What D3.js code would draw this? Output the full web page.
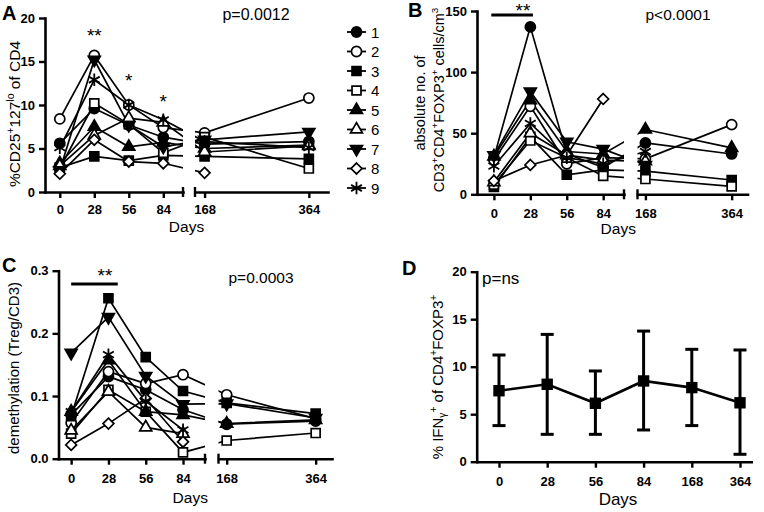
<!DOCTYPE html>
<html><head><meta charset="utf-8">
<script src="https://cdn.jsdelivr.net/npm/d3@7"></script>
<style>
body{margin:0;background:#fff}
svg{display:block}
text{font-family:"Liberation Sans",Arial,Helvetica,sans-serif;fill:#000}
</style>
</head><body>
<svg id="chart" width="764" height="512"></svg>
<script>
// ---------------- DATA ----------------
const days = [0, 28, 56, 84, 168, 364];
const seriesNames = ["1", "2", "3", "4", "5", "6", "7", "8", "9"];
const dayTicksEarly = [0, 28, 56, 84];
const dayTicksLate = [168, 364];

// Panel A: %CD25+127lo of CD4 (rows = series 1..9, cols = days)
const valuesA = [
  [5.6, 9.6, 7.7, 6.3, 5.5, 5.8],
  [8.4, 15.7, 10.0, 7.4, 6.8, 10.8],
  [2.8, 4.1, 3.6, 4.2, 4.1, 3.8],
  [2.7, 10.2, 7.8, 4.5, 6.3, 2.7],
  [3.3, 7.5, 5.2, 5.7, 5.0, 5.4],
  [3.0, 6.5, 8.5, 8.0, 4.6, 5.3],
  [2.5, 15.2, 7.7, 5.2, 6.0, 6.9],
  [2.1, 6.0, 3.5, 3.3, 2.2, null],
  [5.1, 12.9, 10.0, 8.3, 5.8, 5.1]
];
// Panel B: absolute no. of CD3+CD4+FOXP3+ cells/cm3
const valuesB = [
  [30, 137, 33, 22, 42, 33],
  [28, 72, 25, 30, 29, 57],
  [6, 47, 16, 20, 19, 11.7],
  [8, 44, 30, 15, 12.5, 6.5],
  [31, 77, 35, 33, 53, 38],
  [10, 50, 32, 28, 27, null],
  [32, 84, 43, 37, 24, null],
  [11, 24, 32, 78, null, null],
  [23, 58, 30, 25, 35, null]
];
// Panel C: demethylation (Treg/CD3)
const valuesC = [
  [0.070, 0.131, 0.110, 0.078, 0.055, 0.060],
  [0.057, 0.139, 0.120, 0.134, 0.102, 0.064],
  [0.068, 0.256, 0.162, 0.108, 0.089, 0.072],
  [0.040, 0.110, 0.075, 0.010, 0.029, 0.041],
  [0.075, 0.157, 0.075, 0.070, 0.056, 0.062],
  [0.045, 0.107, 0.050, 0.040, null, null],
  [0.169, 0.226, 0.132, 0.087, 0.088, 0.065],
  [0.022, 0.056, 0.096, 0.027, null, null],
  [0.075, 0.166, 0.092, 0.046, null, null]
];
// Panel D: % IFNγ+ of CD4+FOXP3+ (mean with error bars)
const meanD = [7.47, 8.15, 6.15, 8.5, 7.8, 6.2];
const upperD = [11.23, 13.4, 9.55, 13.75, 11.83, 11.76];
const lowerD = [3.8, 2.88, 2.88, 3.34, 3.8, 0.78];

const yTicksA = [0, 5, 10, 15, 20];
const yTicksB = [0, 50, 100, 150];
const yTicksC = [0, 0.1, 0.2, 0.3];
const yTicksD = [0, 5, 10, 15, 20];

// ---------------- DRAWING ----------------
const svg = d3.select("#chart");
const defs = svg.append("defs");

const markerDefs = [
  {type: d3.symbolCircle, fill: true, size: 80},
  {type: d3.symbolCircle, fill: false, size: 80},
  {type: d3.symbolSquare, fill: true, size: 80},
  {type: d3.symbolSquare, fill: false, size: 80},
  {type: d3.symbolTriangle, fill: true, size: 62},
  {type: d3.symbolTriangle, fill: false, size: 62},
  {type: d3.symbolTriangle, fill: true, size: 62, rot: 180},
  {type: d3.symbolDiamond2, fill: false, size: 75},
  {type: d3.symbolAsterisk, fill: false, size: 110, star: true}
];

function drawMarker(g, i, x, y) {
  const m = markerDefs[i];
  g.append("path")
    .attr("d", d3.symbol().type(m.type).size(m.size)())
    .attr("transform", `translate(${x},${y})` + (m.rot ? ` rotate(${m.rot})` : ""))
    .attr("fill", m.star ? "none" : (m.fill ? "#000" : "#fff"))
    .attr("stroke", "#000")
    .attr("stroke-width", m.star ? 1.8 : 1.7);
}

function richText(g, x, y, parts, opts) {
  const t = g.append("text")
    .attr("transform", `translate(${x},${y}) rotate(${opts.rotate || 0})`)
    .attr("text-anchor", opts.anchor || "middle")
    .attr("font-size", opts.size + "px");
  let cur = 0;
  parts.forEach(p => {
    const kind = p[1];
    const target = kind === "sup" ? -opts.size * 0.42 : (kind === "sub" ? opts.size * 0.22 : 0);
    const ts = t.append("tspan").text(p[0]).attr("dy", target - cur);
    if (kind) ts.attr("font-size", (opts.size * 0.68) + "px");
    cur = target;
  });
  return t;
}

function styleAxis(ax) {
  ax.selectAll(".domain").attr("stroke-width", 2.6).attr("stroke-linecap", "square");
  ax.selectAll(".tick line").attr("stroke-width", 2.4);
  ax.selectAll(".tick text")
    .attr("font-family", "'Liberation Sans',Arial,sans-serif")
    .attr("font-weight", "bold").attr("font-size", "13px").attr("fill", "#000");
}

function brokenPanel(cfg) {
  const g = svg.append("g");
  const y = d3.scaleLinear().domain(cfg.yDomain).range([cfg.yBottom, cfg.yTop]);
  const x1 = d3.scaleLinear().domain(cfg.d1).range(cfg.r1);
  const x2 = d3.scaleLinear().domain(cfg.d2).range(cfg.r2);
  const xp = d => d > cfg.d1[1] ? x2(d) : x1(d);

  const clipId = "clip" + cfg.id;
  const cp = defs.append("clipPath").attr("id", clipId);
  cp.append("rect").attr("x", cfg.r1[0] - 30).attr("y", 0)
    .attr("width", cfg.r1[1] - cfg.r1[0] + 30).attr("height", 512);
  cp.append("rect").attr("x", cfg.r2[0]).attr("y", 0)
    .attr("width", cfg.r2[1] - cfg.r2[0] + 30).attr("height", 512);

  const line = d3.line().x(p => xp(p.d)).y(p => y(p.v));
  const lg = g.append("g").attr("clip-path", `url(#${clipId})`);
  cfg.values.forEach(vals => {
    const pts = days.map((d, j) => ({d, v: vals[j]})).filter(p => p.v != null);
    lg.append("path").attr("d", line(pts)).attr("fill", "none")
      .attr("stroke", "#000").attr("stroke-width", 1.7);
  });

  // axes
  const yAx = g.append("g").attr("transform", `translate(${cfg.r1[0]},0)`)
    .call(d3.axisLeft(y).tickValues(cfg.yTicks).tickSize(6).tickSizeOuter(0)
      .tickPadding(4).tickFormat(cfg.yFormat || d3.format("d")));
  styleAxis(yAx);
  const xAx1 = g.append("g").attr("transform", `translate(0,${cfg.yBottom})`)
    .call(d3.axisBottom(x1).tickValues(dayTicksEarly).tickSize(6).tickSizeOuter(0).tickPadding(cfg.xPad));
  styleAxis(xAx1);
  const xAx2 = g.append("g").attr("transform", `translate(0,${cfg.yBottom})`)
    .call(d3.axisBottom(x2).tickValues(dayTicksLate).tickSize(6).tickSizeOuter(0).tickPadding(cfg.xPad));
  styleAxis(xAx2);
  // break end bars
  [cfg.r1[1], cfg.r2[0]].forEach(xx => {
    g.append("line").attr("x1", xx).attr("x2", xx)
      .attr("y1", cfg.yBottom - 5).attr("y2", cfg.yBottom + 5)
      .attr("stroke", "#000").attr("stroke-width", 2.4);
  });

  // markers
  cfg.values.forEach((vals, i) => {
    days.forEach((d, j) => {
      if (vals[j] != null) drawMarker(g, i, xp(d), y(vals[j]));
    });
  });

  // labels
  g.append("text").attr("x", cfg.letter[1]).attr("y", cfg.letter[2])
    .attr("font-size", "20px").attr("font-weight", "bold").text(cfg.letter[0]);
  g.append("text").attr("x", cfg.pval[1]).attr("y", cfg.pval[2]).attr("text-anchor", "middle")
    .attr("font-size", cfg.pval[3] + "px").text(cfg.pval[0]);
  g.append("text").attr("x", (cfg.r1[0] + cfg.r2[1]) / 2 + (cfg.daysDx || 0)).attr("y", cfg.daysY)
    .attr("text-anchor", "middle").attr("font-size", "15.5px").text("Days");
  return {g, y, xp};
}

// Panel A
const A = brokenPanel({
  id: "A", values: valuesA, yDomain: [0, 20], yTop: 18, yBottom: 192, yTicks: yTicksA,
  d1: [-12, 100], r1: [45, 183], d2: [150, 400], r2: [195, 328], xPad: 7,
  letter: ["A", 2, 20], pval: ["p=0.0012", 256, 20, 16], daysY: 232
});
richText(A.g, 20, 114, [["%CD25"], ["+", "sup"], ["127"], ["lo", "sup"], [" of CD4"]], {size: 15.5, rotate: -90});
[[A.xp(28), 42, "**"], [A.xp(56), 87, "*"], [A.xp(84), 108, "*"]].forEach(s => {
  A.g.append("text").attr("x", s[0]).attr("y", s[1]).attr("text-anchor", "middle")
    .attr("font-size", "19px").text(s[2]);
});
// legend
seriesNames.forEach((name, i) => {
  const ly = 32 + 19.5 * i;
  A.g.append("line").attr("x1", 347).attr("x2", 366).attr("y1", ly).attr("y2", ly)
    .attr("stroke", "#000").attr("stroke-width", 1.8);
  drawMarker(A.g, i, 356.5, ly);
  A.g.append("text").attr("x", 371).attr("y", ly + 5.5).attr("font-size", "15px").text(name);
});

// Panel B
const B = brokenPanel({
  id: "B", values: valuesB, yDomain: [0, 150], yTop: 11, yBottom: 194.3, yTicks: yTicksB,
  d1: [-13, 100], r1: [477, 624], d2: [150, 400], r2: [637.5, 747.5], xPad: 8,
  letter: ["B", 408, 17], pval: ["p<0.0001", 678, 20, 15.5], daysY: 234, daysDx: 6
});
richText(B.g, 425, 103, [["absolute no. of"]], {size: 14.5, rotate: -90});
richText(B.g, 444, 100, [["CD3"], ["+", "sup"], ["CD4"], ["+", "sup"], ["FOXP3"], ["+", "sup"], [" cells/cm"], ["3", "sup"]], {size: 14.5, rotate: -90});
B.g.append("line").attr("x1", B.xp(-2)).attr("x2", B.xp(30)).attr("y1", 15).attr("y2", 15)
  .attr("stroke", "#000").attr("stroke-width", 2.8);
B.g.append("text").attr("x", 523).attr("y", 17).attr("text-anchor", "middle").attr("font-size", "19px").text("**");

// Panel C
const C = brokenPanel({
  id: "C", values: valuesC, yDomain: [0, 0.3], yTop: 270.7, yBottom: 458.7, yTicks: yTicksC,
  yFormat: d3.format(".1f"),
  d1: [-9.5, 100.5], r1: [58.5, 205], d2: [150, 400], r2: [218.5, 332], xPad: 9,
  letter: ["C", 2, 272], pval: ["p=0.0003", 261, 283, 15.5], daysY: 503, daysDx: -5
});
richText(C.g, 19, 368, [["demethylation (Treg/CD3)"]], {size: 15, rotate: -90});
C.g.append("line").attr("x1", C.xp(0)).attr("x2", C.xp(35)).attr("y1", 284).attr("y2", 284)
  .attr("stroke", "#000").attr("stroke-width", 2.8);
C.g.append("text").attr("x", 105).attr("y", 281.5).attr("text-anchor", "middle").attr("font-size", "19px").text("**");

// Panel D
(function () {
  const g = svg.append("g");
  const axX = 476.7, top = 271.7, bottom = 461.7, right = 753;
  const y = d3.scaleLinear().domain([0, 20]).range([bottom, top]);
  const x = d3.scalePoint().domain(days.map(String)).range([499, 740]);
  // axes
  const yAx = g.append("g").attr("transform", `translate(${axX},0)`)
    .call(d3.axisLeft(y).tickValues(yTicksD).tickSize(6).tickSizeOuter(0).tickPadding(4));
  styleAxis(yAx);
  const xAx = g.append("g").attr("transform", `translate(0,${bottom})`)
    .call(d3.axisBottom(x).tickSize(6).tickSizeOuter(0).tickPadding(9));
  styleAxis(xAx);
  xAx.select(".domain").remove();
  g.append("line").attr("x1", axX).attr("x2", right).attr("y1", bottom + 0.5).attr("y2", bottom + 0.5)
    .attr("stroke", "#000").attr("stroke-width", 2.6);

  // error bars
  days.forEach((d, j) => {
    const cx = x(String(d));
    g.append("line").attr("x1", cx).attr("x2", cx).attr("y1", y(lowerD[j])).attr("y2", y(upperD[j]))
      .attr("stroke", "#000").attr("stroke-width", 3);
    [upperD[j], lowerD[j]].forEach(v => {
      g.append("line").attr("x1", cx - 6.5).attr("x2", cx + 6.5).attr("y1", y(v)).attr("y2", y(v))
        .attr("stroke", "#000").attr("stroke-width", 3);
    });
  });
  g.append("path").attr("d", d3.line().x((v, j) => x(String(days[j]))).y(v => y(v))(meanD))
    .attr("fill", "none").attr("stroke", "#000").attr("stroke-width", 2.6);
  meanD.forEach((v, j) => {
    g.append("path").attr("d", d3.symbol().type(d3.symbolSquare).size(130)())
      .attr("transform", `translate(${x(String(days[j]))},${y(v)})`).attr("fill", "#000");
  });

  g.append("text").attr("x", 402).attr("y", 275).attr("font-size", "20px").attr("font-weight", "bold").text("D");
  g.append("text").attr("x", 482).attr("y", 284).attr("font-size", "17px").text("p=ns");
  g.append("text").attr("x", 618).attr("y", 505).attr("text-anchor", "middle").attr("font-size", "17px").text("Days");
  richText(g, 443, 377, [["% IFN"], ["γ", "sub"], ["+", "sup"], [" of CD4"], ["+", "sup"], ["FOXP3"], ["+", "sup"]], {size: 15, rotate: -90});
})();
</script>
</body></html>
